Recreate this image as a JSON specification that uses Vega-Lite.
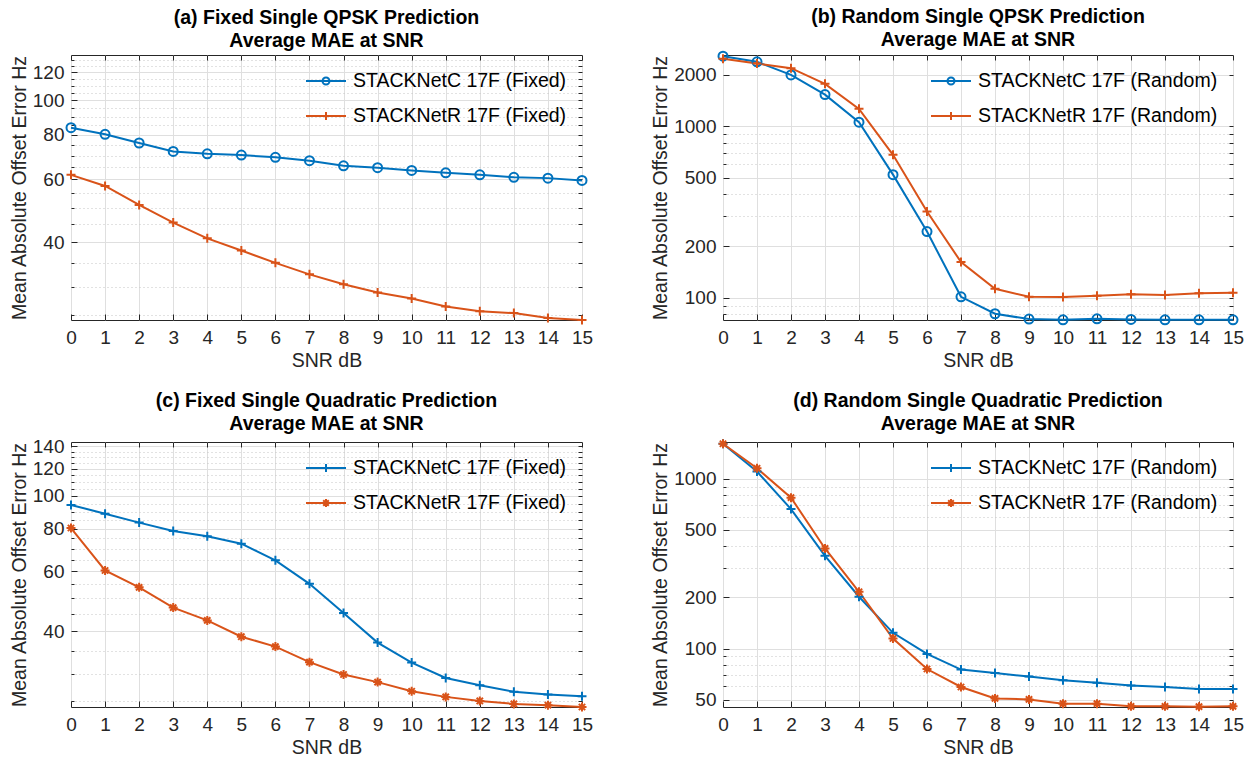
{
  "$schema": "https://vega.github.io/schema/vega-lite/v6.json",
  "background": "white",
  "padding": {"left": 8, "top": 6, "right": 5, "bottom": 2},
  "config": {
    "font": "Liberation Sans",
    "view": {"stroke": "#262626", "strokeWidth": 1},
    "axis": {
      "labelFont": "Liberation Sans", "labelFontSize": 19, "labelColor": "#262626",
      "titleFont": "Liberation Sans", "titleFontSize": 19.5, "titleFontWeight": "normal", "titleColor": "#262626",
      "tickColor": "#262626", "domainColor": "#262626", "gridColor": "#dfdfdf", "gridWidth": 1, "tickWidth": 1,
      "labelFlush": false, "labelOverlap": false, "domain": false
    },
    "title": {"font": "Liberation Sans", "fontSize": 19.5, "fontWeight": "bold", "color": "#000000", "lineHeight": 23, "offset": 3, "frame": "group", "anchor": "middle"},
    "legend": {"labelFont": "Liberation Sans", "labelFontSize": 19.5, "labelColor": "#000000", "labelLimit": 500, "orient": "top-right", "offset": 15, "padding": 0, "symbolSize": 400, "symbolStrokeWidth": 2, "symbolOpacity": 1, "symbolFillColor": "transparent", "symbolOffset": 10, "labelOffset": 16, "rowPadding": 14, "title": null}
  },
  "datasets": {
    "a": [
      {"snr": 0, "mae": 83.8, "series": "STACKNetC 17F (Fixed)"},
      {"snr": 1, "mae": 80.3, "series": "STACKNetC 17F (Fixed)"},
      {"snr": 2, "mae": 75.9, "series": "STACKNetC 17F (Fixed)"},
      {"snr": 3, "mae": 71.9, "series": "STACKNetC 17F (Fixed)"},
      {"snr": 4, "mae": 70.8, "series": "STACKNetC 17F (Fixed)"},
      {"snr": 5, "mae": 70.2, "series": "STACKNetC 17F (Fixed)"},
      {"snr": 6, "mae": 69.2, "series": "STACKNetC 17F (Fixed)"},
      {"snr": 7, "mae": 67.7, "series": "STACKNetC 17F (Fixed)"},
      {"snr": 8, "mae": 65.5, "series": "STACKNetC 17F (Fixed)"},
      {"snr": 9, "mae": 64.7, "series": "STACKNetC 17F (Fixed)"},
      {"snr": 10, "mae": 63.6, "series": "STACKNetC 17F (Fixed)"},
      {"snr": 11, "mae": 62.6, "series": "STACKNetC 17F (Fixed)"},
      {"snr": 12, "mae": 61.8, "series": "STACKNetC 17F (Fixed)"},
      {"snr": 13, "mae": 60.8, "series": "STACKNetC 17F (Fixed)"},
      {"snr": 14, "mae": 60.5, "series": "STACKNetC 17F (Fixed)"},
      {"snr": 15, "mae": 59.6, "series": "STACKNetC 17F (Fixed)"},
      {"snr": 0, "mae": 61.8, "series": "STACKNetR 17F (Fixed)"},
      {"snr": 1, "mae": 57.5, "series": "STACKNetR 17F (Fixed)"},
      {"snr": 2, "mae": 50.9, "series": "STACKNetR 17F (Fixed)"},
      {"snr": 3, "mae": 45.4, "series": "STACKNetR 17F (Fixed)"},
      {"snr": 4, "mae": 41.0, "series": "STACKNetR 17F (Fixed)"},
      {"snr": 5, "mae": 37.9, "series": "STACKNetR 17F (Fixed)"},
      {"snr": 6, "mae": 35.0, "series": "STACKNetR 17F (Fixed)"},
      {"snr": 7, "mae": 32.5, "series": "STACKNetR 17F (Fixed)"},
      {"snr": 8, "mae": 30.5, "series": "STACKNetR 17F (Fixed)"},
      {"snr": 9, "mae": 28.9, "series": "STACKNetR 17F (Fixed)"},
      {"snr": 10, "mae": 27.8, "series": "STACKNetR 17F (Fixed)"},
      {"snr": 11, "mae": 26.4, "series": "STACKNetR 17F (Fixed)"},
      {"snr": 12, "mae": 25.6, "series": "STACKNetR 17F (Fixed)"},
      {"snr": 13, "mae": 25.3, "series": "STACKNetR 17F (Fixed)"},
      {"snr": 14, "mae": 24.5, "series": "STACKNetR 17F (Fixed)"},
      {"snr": 15, "mae": 24.2, "series": "STACKNetR 17F (Fixed)"}
    ],
    "b": [
      {"snr": 0, "mae": 2560, "series": "STACKNetC 17F (Random)"},
      {"snr": 1, "mae": 2372, "series": "STACKNetC 17F (Random)"},
      {"snr": 2, "mae": 1991, "series": "STACKNetC 17F (Random)"},
      {"snr": 3, "mae": 1528, "series": "STACKNetC 17F (Random)"},
      {"snr": 4, "mae": 1055, "series": "STACKNetC 17F (Random)"},
      {"snr": 5, "mae": 522, "series": "STACKNetC 17F (Random)"},
      {"snr": 6, "mae": 243, "series": "STACKNetC 17F (Random)"},
      {"snr": 7, "mae": 101.3, "series": "STACKNetC 17F (Random)"},
      {"snr": 8, "mae": 80.7, "series": "STACKNetC 17F (Random)"},
      {"snr": 9, "mae": 75.1, "series": "STACKNetC 17F (Random)"},
      {"snr": 10, "mae": 74.4, "series": "STACKNetC 17F (Random)"},
      {"snr": 11, "mae": 75.4, "series": "STACKNetC 17F (Random)"},
      {"snr": 12, "mae": 74.8, "series": "STACKNetC 17F (Random)"},
      {"snr": 13, "mae": 74.4, "series": "STACKNetC 17F (Random)"},
      {"snr": 14, "mae": 74.4, "series": "STACKNetC 17F (Random)"},
      {"snr": 15, "mae": 74.4, "series": "STACKNetC 17F (Random)"},
      {"snr": 0, "mae": 2472, "series": "STACKNetR 17F (Random)"},
      {"snr": 1, "mae": 2317, "series": "STACKNetR 17F (Random)"},
      {"snr": 2, "mae": 2179, "series": "STACKNetR 17F (Random)"},
      {"snr": 3, "mae": 1765, "series": "STACKNetR 17F (Random)"},
      {"snr": 4, "mae": 1262, "series": "STACKNetR 17F (Random)"},
      {"snr": 5, "mae": 681, "series": "STACKNetR 17F (Random)"},
      {"snr": 6, "mae": 318, "series": "STACKNetR 17F (Random)"},
      {"snr": 7, "mae": 161.5, "series": "STACKNetR 17F (Random)"},
      {"snr": 8, "mae": 112.9, "series": "STACKNetR 17F (Random)"},
      {"snr": 9, "mae": 101.3, "series": "STACKNetR 17F (Random)"},
      {"snr": 10, "mae": 100.9, "series": "STACKNetR 17F (Random)"},
      {"snr": 11, "mae": 102.7, "series": "STACKNetR 17F (Random)"},
      {"snr": 12, "mae": 104.7, "series": "STACKNetR 17F (Random)"},
      {"snr": 13, "mae": 103.7, "series": "STACKNetR 17F (Random)"},
      {"snr": 14, "mae": 106.1, "series": "STACKNetR 17F (Random)"},
      {"snr": 15, "mae": 107.0, "series": "STACKNetR 17F (Random)"}
    ],
    "c": [
      {"snr": 0, "mae": 94.1, "series": "STACKNetC 17F (Fixed)"},
      {"snr": 1, "mae": 88.7, "series": "STACKNetC 17F (Fixed)"},
      {"snr": 2, "mae": 83.5, "series": "STACKNetC 17F (Fixed)"},
      {"snr": 3, "mae": 78.9, "series": "STACKNetC 17F (Fixed)"},
      {"snr": 4, "mae": 76.1, "series": "STACKNetC 17F (Fixed)"},
      {"snr": 5, "mae": 72.4, "series": "STACKNetC 17F (Fixed)"},
      {"snr": 6, "mae": 64.7, "series": "STACKNetC 17F (Fixed)"},
      {"snr": 7, "mae": 55.2, "series": "STACKNetC 17F (Fixed)"},
      {"snr": 8, "mae": 45.3, "series": "STACKNetC 17F (Fixed)"},
      {"snr": 9, "mae": 37.1, "series": "STACKNetC 17F (Fixed)"},
      {"snr": 10, "mae": 32.4, "series": "STACKNetC 17F (Fixed)"},
      {"snr": 11, "mae": 29.2, "series": "STACKNetC 17F (Fixed)"},
      {"snr": 12, "mae": 27.8, "series": "STACKNetC 17F (Fixed)"},
      {"snr": 13, "mae": 26.6, "series": "STACKNetC 17F (Fixed)"},
      {"snr": 14, "mae": 26.1, "series": "STACKNetC 17F (Fixed)"},
      {"snr": 15, "mae": 25.8, "series": "STACKNetC 17F (Fixed)"},
      {"snr": 0, "mae": 80.5, "series": "STACKNetR 17F (Fixed)"},
      {"snr": 1, "mae": 60.4, "series": "STACKNetR 17F (Fixed)"},
      {"snr": 2, "mae": 53.9, "series": "STACKNetR 17F (Fixed)"},
      {"snr": 3, "mae": 47.0, "series": "STACKNetR 17F (Fixed)"},
      {"snr": 4, "mae": 43.1, "series": "STACKNetR 17F (Fixed)"},
      {"snr": 5, "mae": 38.6, "series": "STACKNetR 17F (Fixed)"},
      {"snr": 6, "mae": 36.1, "series": "STACKNetR 17F (Fixed)"},
      {"snr": 7, "mae": 32.5, "series": "STACKNetR 17F (Fixed)"},
      {"snr": 8, "mae": 29.9, "series": "STACKNetR 17F (Fixed)"},
      {"snr": 9, "mae": 28.4, "series": "STACKNetR 17F (Fixed)"},
      {"snr": 10, "mae": 26.7, "series": "STACKNetR 17F (Fixed)"},
      {"snr": 11, "mae": 25.7, "series": "STACKNetR 17F (Fixed)"},
      {"snr": 12, "mae": 25.0, "series": "STACKNetR 17F (Fixed)"},
      {"snr": 13, "mae": 24.5, "series": "STACKNetR 17F (Fixed)"},
      {"snr": 14, "mae": 24.3, "series": "STACKNetR 17F (Fixed)"},
      {"snr": 15, "mae": 24.0, "series": "STACKNetR 17F (Fixed)"}
    ],
    "d": [
      {"snr": 0, "mae": 1611, "series": "STACKNetC 17F (Random)"},
      {"snr": 1, "mae": 1105, "series": "STACKNetC 17F (Random)"},
      {"snr": 2, "mae": 664, "series": "STACKNetC 17F (Random)"},
      {"snr": 3, "mae": 352, "series": "STACKNetC 17F (Random)"},
      {"snr": 4, "mae": 202, "series": "STACKNetC 17F (Random)"},
      {"snr": 5, "mae": 123.7, "series": "STACKNetC 17F (Random)"},
      {"snr": 6, "mae": 92.9, "series": "STACKNetC 17F (Random)"},
      {"snr": 7, "mae": 75.1, "series": "STACKNetC 17F (Random)"},
      {"snr": 8, "mae": 71.7, "series": "STACKNetC 17F (Random)"},
      {"snr": 9, "mae": 68.3, "series": "STACKNetC 17F (Random)"},
      {"snr": 10, "mae": 64.9, "series": "STACKNetC 17F (Random)"},
      {"snr": 11, "mae": 62.9, "series": "STACKNetC 17F (Random)"},
      {"snr": 12, "mae": 60.6, "series": "STACKNetC 17F (Random)"},
      {"snr": 13, "mae": 59.3, "series": "STACKNetC 17F (Random)"},
      {"snr": 14, "mae": 57.7, "series": "STACKNetC 17F (Random)"},
      {"snr": 15, "mae": 57.7, "series": "STACKNetC 17F (Random)"},
      {"snr": 0, "mae": 1611, "series": "STACKNetR 17F (Random)"},
      {"snr": 1, "mae": 1155, "series": "STACKNetR 17F (Random)"},
      {"snr": 2, "mae": 775, "series": "STACKNetR 17F (Random)"},
      {"snr": 3, "mae": 389, "series": "STACKNetR 17F (Random)"},
      {"snr": 4, "mae": 216, "series": "STACKNetR 17F (Random)"},
      {"snr": 5, "mae": 114.6, "series": "STACKNetR 17F (Random)"},
      {"snr": 6, "mae": 75.7, "series": "STACKNetR 17F (Random)"},
      {"snr": 7, "mae": 59.3, "series": "STACKNetR 17F (Random)"},
      {"snr": 8, "mae": 50.8, "series": "STACKNetR 17F (Random)"},
      {"snr": 9, "mae": 50.1, "series": "STACKNetR 17F (Random)"},
      {"snr": 10, "mae": 47.3, "series": "STACKNetR 17F (Random)"},
      {"snr": 11, "mae": 47.3, "series": "STACKNetR 17F (Random)"},
      {"snr": 12, "mae": 45.6, "series": "STACKNetR 17F (Random)"},
      {"snr": 13, "mae": 45.6, "series": "STACKNetR 17F (Random)"},
      {"snr": 14, "mae": 45.4, "series": "STACKNetR 17F (Random)"},
      {"snr": 15, "mae": 45.6, "series": "STACKNetR 17F (Random)"}
    ]
  },
  "columns": 2,
  "spacing": {"row": 20, "column": 56},
  "resolve": {"scale": {"x": "independent", "y": "independent", "color": "independent", "shape": "independent"}},
  "concat": [
    {
      "width": 511, "height": 265,
      "title": {"text": ["(a) Fixed Single QPSK Prediction", "Average MAE at SNR"]},
      "data": {"name": "a"},
      "resolve": {"axis": {"x": "independent", "y": "independent"}},
      "layer": [
        {"mark": {"type": "line", "strokeOpacity": 0},
         "encoding": {
           "x": {"field": "snr", "type": "quantitative", "scale": {"domain": [0, 15], "nice": false}, "axis": {"orient": "top", "values": [0,1,2,3,4,5,6,7,8,9,10,11,12,13,14,15], "labels": false, "grid": false, "tickSize": -5, "title": null}},
           "y": {"field": "mae", "type": "quantitative", "scale": {"type": "log", "domain": [24.2, 134], "nice": false}, "axis": {"orient": "left", "values": [25,30,35,45,50,55,65,70,75,85,90,95,105,110,115,125,130], "labels": false, "grid": true, "gridDash": [1, 3], "gridColor": "#c4c4c4", "tickSize": -3, "title": null}}
         }},
        {"mark": {"type": "line", "strokeOpacity": 0},
         "encoding": {
           "x": {"field": "snr", "type": "quantitative", "axis": null},
           "y": {"field": "mae", "type": "quantitative", "axis": {"orient": "right", "values": [25,30,35,40,45,50,55,60,65,70,75,80,85,90,95,100,105,110,115,120,125,130], "labels": false, "grid": false, "tickSize": -4, "title": null}}
         }},
        {"transform": [{"filter": "indexof(datum.series, 'NetC') >= 0"}],
         "mark": {"type": "line", "strokeWidth": 2, "color": "#0072BD"},
         "encoding": {
           "x": {"field": "snr", "type": "quantitative", "axis": {"orient": "bottom", "values": [0,1,2,3,4,5,6,7,8,9,10,11,12,13,14,15], "grid": true, "tickSize": -6, "labelPadding": 14, "title": "SNR dB", "titlePadding": 4}},
           "y": {"field": "mae", "type": "quantitative", "axis": {"orient": "left", "values": [40,60,80,100,120], "format": "d", "grid": true, "tickSize": -6, "labelPadding": 13, "title": "Mean Absolute Offset Error Hz", "titlePadding": 3}}
         }},
        {"transform": [{"filter": "indexof(datum.series, 'NetR') >= 0"}],
         "mark": {"type": "line", "strokeWidth": 2, "color": "#D95319"},
         "encoding": {
           "x": {"field": "snr", "type": "quantitative", "axis": null},
           "y": {"field": "mae", "type": "quantitative", "axis": null}
         }},
        {"transform": [{"filter": "indexof(datum.series, 'NetC') >= 0"}],
         "mark": {"type": "point", "shape": "circle", "filled": false, "color": "#0072BD", "strokeWidth": 2, "size": 81, "opacity": 1},
         "encoding": {
           "x": {"field": "snr", "type": "quantitative", "axis": null},
           "y": {"field": "mae", "type": "quantitative", "axis": null}
         }},
        {"transform": [{"filter": "indexof(datum.series, 'NetR') >= 0"}],
         "mark": {"type": "point", "shape": "M-1,0H1M0,-1V1", "filled": false, "color": "#D95319", "strokeWidth": 2, "size": 81, "opacity": 1},
         "encoding": {
           "x": {"field": "snr", "type": "quantitative", "axis": null},
           "y": {"field": "mae", "type": "quantitative", "axis": null}
         }},
        {"mark": {"type": "point", "filled": false, "opacity": 0},
         "encoding": {
           "x": {"field": "snr", "type": "quantitative", "axis": null},
           "y": {"field": "mae", "type": "quantitative", "axis": null},
           "color": {"field": "series", "type": "nominal", "scale": {"domain": ["STACKNetC 17F (Fixed)", "STACKNetR 17F (Fixed)"], "range": ["#0072BD", "#D95319"]}},
           "shape": {"field": "series", "type": "nominal", "scale": {"domain": ["STACKNetC 17F (Fixed)", "STACKNetR 17F (Fixed)"], "range": ["M-2,0H2M0.35,0A0.35,0.35,0,1,1,-0.35,0A0.35,0.35,0,1,1,0.35,0", "M-2,0H2M0,-0.4V0.4"]}}
         }}
      ]
    },
    {
      "width": 510, "height": 265,
      "title": {"text": ["(b) Random Single QPSK Prediction", "Average MAE at SNR"], "offset": -3},
      "data": {"name": "b"},
      "resolve": {"axis": {"x": "independent", "y": "independent"}},
      "layer": [
        {"mark": {"type": "line", "strokeOpacity": 0},
         "encoding": {
           "x": {"field": "snr", "type": "quantitative", "scale": {"domain": [0, 15], "nice": false}, "axis": {"orient": "top", "values": [0,1,2,3,4,5,6,7,8,9,10,11,12,13,14,15], "labels": false, "grid": false, "tickSize": -5, "title": null}},
           "y": {"field": "mae", "type": "quantitative", "scale": {"type": "log", "domain": [74.2, 2600], "nice": false}, "axis": {"orient": "left", "values": [80,90,300,400,600,700,800,900], "labels": false, "grid": true, "gridDash": [1, 3], "gridColor": "#c4c4c4", "tickSize": -3, "title": null}}
         }},
        {"mark": {"type": "line", "strokeOpacity": 0},
         "encoding": {
           "x": {"field": "snr", "type": "quantitative", "axis": null},
           "y": {"field": "mae", "type": "quantitative", "axis": {"orient": "right", "values": [80,90,100,200,300,400,500,600,700,800,900,1000,2000], "labels": false, "grid": false, "tickSize": -4, "title": null}}
         }},
        {"transform": [{"filter": "indexof(datum.series, 'NetC') >= 0"}],
         "mark": {"type": "line", "strokeWidth": 2, "color": "#0072BD"},
         "encoding": {
           "x": {"field": "snr", "type": "quantitative", "axis": {"orient": "bottom", "values": [0,1,2,3,4,5,6,7,8,9,10,11,12,13,14,15], "grid": true, "tickSize": -6, "labelPadding": 14, "title": "SNR dB", "titlePadding": 4}},
           "y": {"field": "mae", "type": "quantitative", "axis": {"orient": "left", "values": [100,200,500,1000,2000], "format": "d", "grid": true, "tickSize": -6, "labelPadding": 13, "title": "Mean Absolute Offset Error Hz", "titlePadding": 3}}
         }},
        {"transform": [{"filter": "indexof(datum.series, 'NetR') >= 0"}],
         "mark": {"type": "line", "strokeWidth": 2, "color": "#D95319"},
         "encoding": {
           "x": {"field": "snr", "type": "quantitative", "axis": null},
           "y": {"field": "mae", "type": "quantitative", "axis": null}
         }},
        {"transform": [{"filter": "indexof(datum.series, 'NetC') >= 0"}],
         "mark": {"type": "point", "shape": "circle", "filled": false, "color": "#0072BD", "strokeWidth": 2, "size": 81, "opacity": 1},
         "encoding": {
           "x": {"field": "snr", "type": "quantitative", "axis": null},
           "y": {"field": "mae", "type": "quantitative", "axis": null}
         }},
        {"transform": [{"filter": "indexof(datum.series, 'NetR') >= 0"}],
         "mark": {"type": "point", "shape": "M-1,0H1M0,-1V1", "filled": false, "color": "#D95319", "strokeWidth": 2, "size": 81, "opacity": 1},
         "encoding": {
           "x": {"field": "snr", "type": "quantitative", "axis": null},
           "y": {"field": "mae", "type": "quantitative", "axis": null}
         }},
        {"mark": {"type": "point", "filled": false, "opacity": 0},
         "encoding": {
           "x": {"field": "snr", "type": "quantitative", "axis": null},
           "y": {"field": "mae", "type": "quantitative", "axis": null},
           "color": {"field": "series", "type": "nominal", "scale": {"domain": ["STACKNetC 17F (Random)", "STACKNetR 17F (Random)"], "range": ["#0072BD", "#D95319"]}},
           "shape": {"field": "series", "type": "nominal", "scale": {"domain": ["STACKNetC 17F (Random)", "STACKNetR 17F (Random)"], "range": ["M-2,0H2M0.35,0A0.35,0.35,0,1,1,-0.35,0A0.35,0.35,0,1,1,0.35,0", "M-2,0H2M0,-0.4V0.4"]}}
         }}
      ]
    },
    {
      "width": 511, "height": 265,
      "title": {"text": ["(c) Fixed Single Quadratic Prediction", "Average MAE at SNR"]},
      "data": {"name": "c"},
      "resolve": {"axis": {"x": "independent", "y": "independent"}},
      "layer": [
        {"mark": {"type": "line", "strokeOpacity": 0},
         "encoding": {
           "x": {"field": "snr", "type": "quantitative", "scale": {"domain": [0, 15], "nice": false}, "axis": {"orient": "top", "values": [0,1,2,3,4,5,6,7,8,9,10,11,12,13,14,15], "labels": false, "grid": false, "tickSize": -5, "title": null}},
           "y": {"field": "mae", "type": "quantitative", "scale": {"type": "log", "domain": [24.0, 144], "nice": false}, "axis": {"orient": "left", "values": [25,30,35,45,50,55,65,70,75,85,90,95,105,110,115,125,130,135], "labels": false, "grid": true, "gridDash": [1, 3], "gridColor": "#c4c4c4", "tickSize": -3, "title": null}}
         }},
        {"mark": {"type": "line", "strokeOpacity": 0},
         "encoding": {
           "x": {"field": "snr", "type": "quantitative", "axis": null},
           "y": {"field": "mae", "type": "quantitative", "axis": {"orient": "right", "values": [25,30,35,40,45,50,55,60,65,70,75,80,85,90,95,100,105,110,115,120,125,130,135,140], "labels": false, "grid": false, "tickSize": -4, "title": null}}
         }},
        {"transform": [{"filter": "indexof(datum.series, 'NetC') >= 0"}],
         "mark": {"type": "line", "strokeWidth": 2, "color": "#0072BD"},
         "encoding": {
           "x": {"field": "snr", "type": "quantitative", "axis": {"orient": "bottom", "values": [0,1,2,3,4,5,6,7,8,9,10,11,12,13,14,15], "grid": true, "tickSize": -6, "labelPadding": 14, "title": "SNR dB", "titlePadding": 4}},
           "y": {"field": "mae", "type": "quantitative", "axis": {"orient": "left", "values": [40,60,80,100,120,140], "format": "d", "grid": true, "tickSize": -6, "labelPadding": 13, "title": "Mean Absolute Offset Error Hz", "titlePadding": 3}}
         }},
        {"transform": [{"filter": "indexof(datum.series, 'NetR') >= 0"}],
         "mark": {"type": "line", "strokeWidth": 2, "color": "#D95319"},
         "encoding": {
           "x": {"field": "snr", "type": "quantitative", "axis": null},
           "y": {"field": "mae", "type": "quantitative", "axis": null}
         }},
        {"transform": [{"filter": "indexof(datum.series, 'NetC') >= 0"}],
         "mark": {"type": "point", "shape": "M-1,0H1M0,-1V1", "filled": false, "color": "#0072BD", "strokeWidth": 2, "size": 81, "opacity": 1},
         "encoding": {
           "x": {"field": "snr", "type": "quantitative", "axis": null},
           "y": {"field": "mae", "type": "quantitative", "axis": null}
         }},
        {"transform": [{"filter": "indexof(datum.series, 'NetR') >= 0"}],
         "mark": {"type": "point", "shape": "M-1,0H1M0,-1V1M-0.7,-0.7L0.7,0.7M-0.7,0.7L0.7,-0.7", "filled": false, "color": "#D95319", "strokeWidth": 2, "size": 81, "opacity": 1},
         "encoding": {
           "x": {"field": "snr", "type": "quantitative", "axis": null},
           "y": {"field": "mae", "type": "quantitative", "axis": null}
         }},
        {"mark": {"type": "point", "filled": false, "opacity": 0},
         "encoding": {
           "x": {"field": "snr", "type": "quantitative", "axis": null},
           "y": {"field": "mae", "type": "quantitative", "axis": null},
           "color": {"field": "series", "type": "nominal", "scale": {"domain": ["STACKNetC 17F (Fixed)", "STACKNetR 17F (Fixed)"], "range": ["#0072BD", "#D95319"]}},
           "shape": {"field": "series", "type": "nominal", "scale": {"domain": ["STACKNetC 17F (Fixed)", "STACKNetR 17F (Fixed)"], "range": ["M-2,0H2M0,-0.4V0.4", "M-2,0H2M-0.4,0H0.4M0,-0.4V0.4M-0.28,-0.28L0.28,0.28M-0.28,0.28L0.28,-0.28"]}}
         }}
      ]
    },
    {
      "width": 510, "height": 265,
      "title": {"text": ["(d) Random Single Quadratic Prediction", "Average MAE at SNR"], "offset": 1},
      "data": {"name": "d"},
      "resolve": {"axis": {"x": "independent", "y": "independent"}},
      "layer": [
        {"mark": {"type": "line", "strokeOpacity": 0},
         "encoding": {
           "x": {"field": "snr", "type": "quantitative", "scale": {"domain": [0, 15], "nice": false}, "axis": {"orient": "top", "values": [0,1,2,3,4,5,6,7,8,9,10,11,12,13,14,15], "labels": false, "grid": false, "tickSize": -5, "title": null}},
           "y": {"field": "mae", "type": "quantitative", "scale": {"type": "log", "domain": [45.2, 1650], "nice": false}, "axis": {"orient": "left", "values": [60,70,80,90,300,400,600,700,800,900], "labels": false, "grid": true, "gridDash": [1, 3], "gridColor": "#c4c4c4", "tickSize": -3, "title": null}}
         }},
        {"mark": {"type": "line", "strokeOpacity": 0},
         "encoding": {
           "x": {"field": "snr", "type": "quantitative", "axis": null},
           "y": {"field": "mae", "type": "quantitative", "axis": {"orient": "right", "values": [50,60,70,80,90,100,200,300,400,500,600,700,800,900,1000], "labels": false, "grid": false, "tickSize": -4, "title": null}}
         }},
        {"transform": [{"filter": "indexof(datum.series, 'NetC') >= 0"}],
         "mark": {"type": "line", "strokeWidth": 2, "color": "#0072BD"},
         "encoding": {
           "x": {"field": "snr", "type": "quantitative", "axis": {"orient": "bottom", "values": [0,1,2,3,4,5,6,7,8,9,10,11,12,13,14,15], "grid": true, "tickSize": -6, "labelPadding": 14, "title": "SNR dB", "titlePadding": 4}},
           "y": {"field": "mae", "type": "quantitative", "axis": {"orient": "left", "values": [50,100,200,500,1000], "format": "d", "grid": true, "tickSize": -6, "labelPadding": 13, "title": "Mean Absolute Offset Error Hz", "titlePadding": 3}}
         }},
        {"transform": [{"filter": "indexof(datum.series, 'NetR') >= 0"}],
         "mark": {"type": "line", "strokeWidth": 2, "color": "#D95319"},
         "encoding": {
           "x": {"field": "snr", "type": "quantitative", "axis": null},
           "y": {"field": "mae", "type": "quantitative", "axis": null}
         }},
        {"transform": [{"filter": "indexof(datum.series, 'NetC') >= 0"}],
         "mark": {"type": "point", "shape": "M-1,0H1M0,-1V1", "filled": false, "color": "#0072BD", "strokeWidth": 2, "size": 81, "opacity": 1},
         "encoding": {
           "x": {"field": "snr", "type": "quantitative", "axis": null},
           "y": {"field": "mae", "type": "quantitative", "axis": null}
         }},
        {"transform": [{"filter": "indexof(datum.series, 'NetR') >= 0"}],
         "mark": {"type": "point", "shape": "M-1,0H1M0,-1V1M-0.7,-0.7L0.7,0.7M-0.7,0.7L0.7,-0.7", "filled": false, "color": "#D95319", "strokeWidth": 2, "size": 81, "opacity": 1},
         "encoding": {
           "x": {"field": "snr", "type": "quantitative", "axis": null},
           "y": {"field": "mae", "type": "quantitative", "axis": null}
         }},
        {"mark": {"type": "point", "filled": false, "opacity": 0},
         "encoding": {
           "x": {"field": "snr", "type": "quantitative", "axis": null},
           "y": {"field": "mae", "type": "quantitative", "axis": null},
           "color": {"field": "series", "type": "nominal", "scale": {"domain": ["STACKNetC 17F (Random)", "STACKNetR 17F (Random)"], "range": ["#0072BD", "#D95319"]}},
           "shape": {"field": "series", "type": "nominal", "scale": {"domain": ["STACKNetC 17F (Random)", "STACKNetR 17F (Random)"], "range": ["M-2,0H2M0,-0.4V0.4", "M-2,0H2M-0.4,0H0.4M0,-0.4V0.4M-0.28,-0.28L0.28,0.28M-0.28,0.28L0.28,-0.28"]}}
         }}
      ]
    }
  ]
}
